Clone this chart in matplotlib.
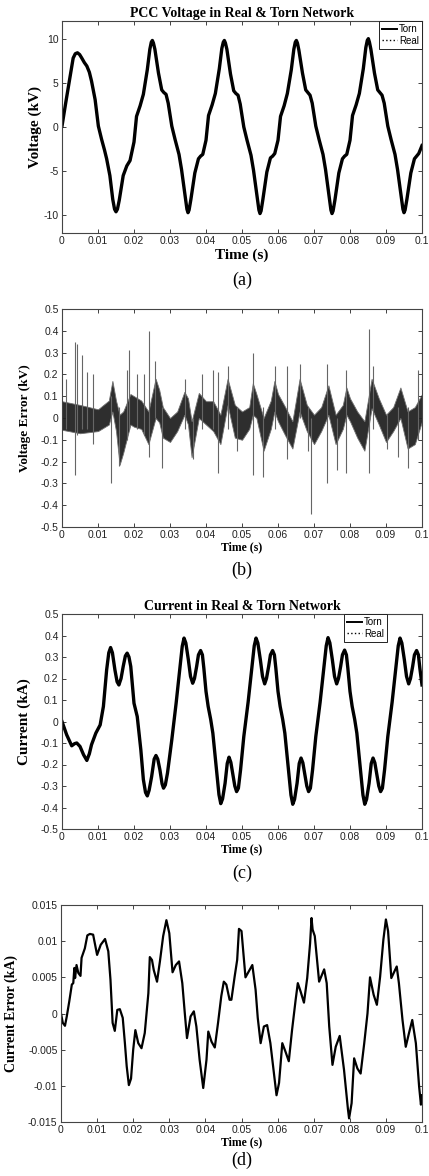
import matplotlib.pyplot as plt
from matplotlib.lines import Line2D

# ---- (a) PCC voltage, kV (torn and real overlap at this scale)
volt_t = [0.0000, 0.0011, 0.0022, 0.0031, 0.0037, 0.0043, 0.0049, 0.0055, 0.0062, 0.0069,
          0.0076, 0.0082, 0.0092, 0.0101, 0.0110, 0.0118, 0.0124, 0.0133, 0.0141, 0.0146,
          0.0150, 0.0154, 0.0159, 0.0165, 0.0170, 0.0180, 0.0189,
          0.0200, 0.0207, 0.0217, 0.0226, 0.0237, 0.0244, 0.0248, 0.0251, 0.0254, 0.0258,
          0.0268, 0.0277, 0.0283, 0.0289, 0.0295, 0.0305, 0.0314, 0.0325, 0.0332, 0.0342,
          0.0347, 0.0350, 0.0353, 0.0358, 0.0369, 0.0379, 0.0385, 0.0391,
          0.0400, 0.0407, 0.0417, 0.0426, 0.0437, 0.0444, 0.0448, 0.0451, 0.0454, 0.0458,
          0.0468, 0.0477, 0.0483, 0.0489, 0.0495, 0.0505, 0.0514, 0.0525, 0.0532, 0.0542,
          0.0547, 0.0550, 0.0553, 0.0558, 0.0569, 0.0579, 0.0585, 0.0591,
          0.0600, 0.0607, 0.0617, 0.0626, 0.0637, 0.0644, 0.0648, 0.0651, 0.0654, 0.0658,
          0.0668, 0.0677, 0.0683, 0.0689, 0.0695, 0.0705, 0.0714, 0.0725, 0.0732, 0.0742,
          0.0747, 0.0750, 0.0753, 0.0758, 0.0769, 0.0779, 0.0785, 0.0791,
          0.0800, 0.0807, 0.0817, 0.0826, 0.0837, 0.0844, 0.0848, 0.0851, 0.0854, 0.0858,
          0.0868, 0.0877, 0.0883, 0.0889, 0.0895, 0.0905, 0.0914, 0.0925, 0.0932, 0.0942,
          0.0947, 0.0950, 0.0953, 0.0958, 0.0969, 0.0979, 0.0985, 0.0991, 0.1000]
volt_kv = [0.1, 2.9, 5.6, 7.8, 8.3, 8.4, 8.2, 7.8, 7.3, 6.9,
           6.2, 5.2, 3.1, 0.1, -1.4, -2.6, -3.6, -5.5, -8.2, -9.3,
           -9.6, -9.3, -8.3, -6.8, -5.5, -4.4, -3.8,
           -1.7, 1.2, 2.4, 3.7, 6.5, 8.8, 9.6, 9.8, 9.5, 8.8,
           6.1, 4.2, 3.9, 3.7, 2.7, 0.1, -1.4, -3.1, -4.8, -7.8,
           -9.3, -9.7, -9.4, -8.2, -5.2, -3.6, -3.3, -3.1,
           -1.5, 1.3, 2.5, 3.8, 6.6, 8.9, 9.6, 9.8, 9.5, 8.8,
           6.0, 4.1, 3.8, 3.6, 2.6, 0.0, -1.5, -3.2, -4.9, -7.9,
           -9.4, -9.8, -9.5, -8.2, -5.1, -3.5, -3.3, -3.0,
           -1.5, 1.2, 2.4, 3.8, 6.5, 8.8, 9.6, 9.8, 9.5, 8.7,
           6.1, 4.2, 3.9, 3.6, 2.7, 0.1, -1.4, -3.1, -4.8, -7.9,
           -9.4, -9.8, -9.5, -8.3, -5.2, -3.6, -3.3, -3.1,
           -1.5, 1.3, 2.5, 3.8, 6.6, 9.0, 9.8, 10.0, 9.6, 8.8,
           6.1, 4.2, 3.9, 3.6, 2.7, 0.1, -1.4, -3.1, -4.8, -7.8,
           -9.3, -9.7, -9.4, -8.2, -5.2, -3.6, -3.3, -3.0, -2.1]

# ---- (b) voltage error, kV: noise band envelope + isolated spikes
verr_t = [0.000, 0.005, 0.010, 0.013, 0.014, 0.015, 0.016, 0.017, 0.019, 0.020,
          0.022, 0.024, 0.026, 0.027, 0.028, 0.030, 0.032, 0.034, 0.035, 0.036,
          0.038, 0.040, 0.042, 0.044, 0.046, 0.048, 0.050, 0.052, 0.053, 0.054,
          0.056, 0.058, 0.059, 0.060, 0.062, 0.064, 0.066, 0.068, 0.070, 0.072,
          0.074, 0.076, 0.078, 0.079, 0.080, 0.082, 0.084, 0.086, 0.088, 0.090,
          0.092, 0.094, 0.096, 0.098, 0.100]
verr_hi = [0.077, 0.060, 0.040, 0.080, 0.170, 0.080, 0.015, 0.030, 0.110, 0.100,
           0.080, 0.030, 0.180, 0.130, 0.050, 0.000, 0.030, 0.120, 0.090, -0.015,
           0.115, 0.077, 0.077, 0.015, 0.180, 0.060, 0.030, 0.050, 0.160, 0.110,
           0.000, 0.080, 0.170, 0.110, 0.050, -0.015, 0.180, 0.060, 0.015, 0.050,
           0.150, 0.015, 0.060, 0.140, 0.090, 0.030, -0.015, 0.180, 0.090, 0.015,
           0.050, 0.140, 0.030, 0.050, 0.110]
verr_lo = [-0.054, -0.070, -0.060, -0.030, 0.030, -0.060, -0.215, -0.160, -0.030, -0.040,
           -0.050, -0.120, 0.000, -0.020, -0.090, -0.110, -0.060, 0.015, -0.030, -0.180,
           0.000, -0.030, -0.060, -0.120, 0.060, -0.090, -0.100, -0.050, 0.015, 0.000,
           -0.150, -0.050, 0.030, -0.015, -0.080, -0.140, 0.030, -0.060, -0.120, -0.060,
           0.015, -0.120, -0.050, 0.015, -0.015, -0.090, -0.150, 0.045, -0.030, -0.110,
           -0.060, 0.000, -0.140, -0.120, -0.015]
spike_t = [0.0011, 0.0036, 0.0043, 0.0056, 0.0069, 0.0085, 0.0136, 0.0159, 0.0180, 0.0187,
           0.0207, 0.0228, 0.0243, 0.0258, 0.0277, 0.0342, 0.0365, 0.0388, 0.0420, 0.0434,
           0.0462, 0.0485, 0.0530, 0.0559, 0.0592, 0.0626, 0.0660, 0.0684, 0.0693, 0.0737,
           0.0763, 0.0790, 0.0854, 0.0863, 0.0902, 0.0934, 0.0962, 0.0989]
spike_lo = [-0.05, -0.26, -0.08, -0.05, -0.05, -0.12, -0.30, -0.22, -0.10, -0.05,
            -0.05, -0.08, -0.18, 0.00, -0.23, -0.05, -0.19, -0.05, -0.05, -0.25,
            -0.05, -0.15, -0.26, -0.27, -0.05, -0.19, 0.00, -0.15, -0.44, -0.30,
            -0.24, -0.25, -0.25, -0.05, -0.14, -0.18, -0.23, -0.10]
spike_hi = [0.18, 0.35, 0.34, 0.29, 0.21, 0.20, 0.10, 0.05, 0.22, 0.31,
            0.20, 0.20, 0.40, 0.26, 0.05, 0.18, 0.00, 0.20, 0.22, 0.21,
            0.24, 0.05, 0.30, 0.05, 0.24, 0.24, 0.25, 0.05, 0.00, 0.25,
            0.00, 0.22, 0.41, 0.24, 0.02, 0.05, 0.05, 0.22]

# ---- (c) current, kA
curr_t = [0.0000, 0.0013, 0.0027, 0.0035, 0.0041, 0.0050, 0.0060, 0.0069, 0.0076, 0.0082,
          0.0094, 0.0106, 0.0115, 0.0124, 0.0130, 0.0135, 0.0140, 0.0147, 0.0153, 0.0158,
          0.0164, 0.0170, 0.0176, 0.0181, 0.0186, 0.0191, 0.0200, 0.0209, 0.0219, 0.0226,
          0.0232, 0.0237, 0.0242, 0.0249, 0.0256, 0.0261, 0.0266, 0.0272, 0.0278, 0.0282,
          0.0287, 0.0293,
          0.0305, 0.0317, 0.0328, 0.0334, 0.0339, 0.0344, 0.0351, 0.0357, 0.0363, 0.0368,
          0.0374, 0.0379, 0.0385, 0.0390, 0.0394, 0.0400, 0.0406, 0.0413, 0.0419, 0.0430,
          0.0436, 0.0441, 0.0446, 0.0453, 0.0459, 0.0464, 0.0469, 0.0474, 0.0480, 0.0485,
          0.0490, 0.0496,
          0.0505, 0.0517, 0.0528, 0.0534, 0.0539, 0.0544, 0.0551, 0.0557, 0.0563, 0.0568,
          0.0574, 0.0579, 0.0585, 0.0590, 0.0594, 0.0600, 0.0606, 0.0613, 0.0619, 0.0630,
          0.0636, 0.0641, 0.0646, 0.0653, 0.0659, 0.0664, 0.0669, 0.0674, 0.0680, 0.0685,
          0.0690, 0.0696,
          0.0705, 0.0717, 0.0728, 0.0734, 0.0739, 0.0744, 0.0751, 0.0757, 0.0763, 0.0768,
          0.0774, 0.0779, 0.0785, 0.0790, 0.0794, 0.0800, 0.0806, 0.0813, 0.0819, 0.0830,
          0.0836, 0.0841, 0.0846, 0.0853, 0.0859, 0.0864, 0.0869, 0.0874, 0.0880, 0.0885,
          0.0890, 0.0896,
          0.0905, 0.0917, 0.0928, 0.0934, 0.0939, 0.0944, 0.0951, 0.0957, 0.0963, 0.0968,
          0.0974, 0.0979, 0.0985, 0.0990, 0.0994, 0.1000]
curr_ka = [0.000, -0.062, -0.113, -0.103, -0.100, -0.116, -0.155, -0.181, -0.150, -0.108,
           -0.054, -0.016, 0.070, 0.240, 0.320, 0.344, 0.320, 0.240, 0.185, 0.170,
           0.200, 0.256, 0.305, 0.318, 0.300, 0.256, 0.085, 0.023, -0.132, -0.270,
           -0.330, -0.346, -0.320, -0.256, -0.175, -0.158, -0.175, -0.225, -0.290, -0.310,
           -0.295, -0.240,
           -0.085, 0.085, 0.256, 0.350, 0.388, 0.365, 0.287, 0.210, 0.178, 0.200,
           0.256, 0.310, 0.330, 0.310, 0.248, 0.140, 0.070, 0.010, -0.054, -0.240,
           -0.340, -0.382, -0.360, -0.287, -0.195, -0.166, -0.190, -0.240, -0.300, -0.326,
           -0.310, -0.225,
           -0.070, 0.090, 0.258, 0.352, 0.388, 0.365, 0.287, 0.210, 0.175, 0.200,
           0.256, 0.310, 0.330, 0.310, 0.248, 0.140, 0.070, 0.010, -0.054, -0.240,
           -0.342, -0.385, -0.362, -0.287, -0.195, -0.170, -0.192, -0.240, -0.300, -0.326,
           -0.310, -0.225,
           -0.070, 0.090, 0.258, 0.352, 0.390, 0.366, 0.287, 0.210, 0.175, 0.200,
           0.256, 0.310, 0.332, 0.310, 0.248, 0.140, 0.070, 0.010, -0.054, -0.240,
           -0.342, -0.385, -0.362, -0.287, -0.195, -0.170, -0.192, -0.240, -0.300, -0.326,
           -0.310, -0.225,
           -0.070, 0.090, 0.258, 0.352, 0.388, 0.365, 0.287, 0.210, 0.175, 0.200,
           0.256, 0.310, 0.330, 0.310, 0.248, 0.170]

# ---- (d) current error, kA
cerr_t = [0.0000, 0.0005, 0.0011, 0.0016, 0.0023, 0.0030, 0.0034, 0.0037, 0.0039, 0.0043,
          0.0048, 0.0054, 0.0057, 0.0066, 0.0073, 0.0080, 0.0089, 0.0100, 0.0110, 0.0122,
          0.0131, 0.0137, 0.0143, 0.0149, 0.0156, 0.0163, 0.0171, 0.0177, 0.0182, 0.0188,
          0.0194, 0.0200, 0.0206, 0.0214, 0.0223, 0.0232, 0.0242, 0.0246, 0.0252, 0.0257,
          0.0266, 0.0274, 0.0283, 0.0292, 0.0300, 0.0309, 0.0318, 0.0327, 0.0336, 0.0343,
          0.0349, 0.0359, 0.0368, 0.0375, 0.0384, 0.0394, 0.0403, 0.0408, 0.0417, 0.0426,
          0.0435, 0.0444, 0.0451, 0.0458, 0.0467, 0.0472, 0.0481, 0.0488, 0.0493, 0.0500,
          0.0511, 0.0530, 0.0539, 0.0545, 0.0553, 0.0562, 0.0571, 0.0580, 0.0590, 0.0597,
          0.0604, 0.0613, 0.0622, 0.0631, 0.0640, 0.0650, 0.0656, 0.0664, 0.0673, 0.0682,
          0.0690, 0.0694, 0.0697, 0.0703, 0.0715, 0.0729, 0.0736, 0.0743, 0.0752, 0.0761,
          0.0772, 0.0784, 0.0795, 0.0798, 0.0805, 0.0812, 0.0821, 0.0830, 0.0840, 0.0849,
          0.0856, 0.0866, 0.0875, 0.0884, 0.0893, 0.0900, 0.0906, 0.0915, 0.0930, 0.0936,
          0.0946, 0.0955, 0.0964, 0.0973, 0.0983, 0.0992, 0.0997, 0.1000]
cerr_ma = [0.0, -1.3, -1.7, -0.4, 1.7, 4.0, 4.2, 6.3, 4.9, 6.7,
           5.6, 5.2, 7.7, 9.0, 10.8, 11.0, 10.9, 8.1, 9.5, 10.3,
           8.6, 4.7, -1.3, -2.4, 0.5, 0.6, -0.6, -4.1, -7.3, -9.9,
           -9.0, -5.0, -2.3, -4.1, -4.8, -2.7, 2.8, 7.8, 7.4, 6.0,
           4.4, 7.2, 10.7, 12.9, 11.1, 5.7, 6.7, 7.2, 4.2, 0.0,
           -3.4, -0.4, 0.3, -1.8, -6.4, -10.3, -6.4, -2.5, -3.9, -4.7,
           -1.3, 2.4, 4.4, 4.0, 1.9, 1.9, 5.1, 7.4, 11.7, 11.4,
           5.0, 6.7, 3.3, -0.6, -4.1, -1.8, -1.6, -4.1, -8.3, -11.3,
           -9.6, -4.1, -5.3, -6.6, -2.3, 1.9, 4.2, 3.0, 1.5, 4.9,
           9.7, 13.2, 11.6, 10.7, 4.4, 6.1, 4.2, -1.8, -7.1, -4.6,
           -3.1, -7.8, -13.3, -14.5, -12.4, -6.2, -7.6, -8.3, -4.1, 0.0,
           5.0, 2.6, 1.2, 5.1, 10.2, 13.0, 11.4, 4.9, 6.5, 4.2,
           -0.9, -4.6, -2.7, -0.9, -4.1, -10.1, -12.6, -11.3]
cerr_ka = [v / 1000.0 for v in cerr_ma]

time_ticks = [0, 0.01, 0.02, 0.03, 0.04, 0.05, 0.06, 0.07, 0.08, 0.09, 0.1]
time_labels = ['0', '0.01', '0.02', '0.03', '0.04', '0.05', '0.06', '0.07', '0.08', '0.09', '0.1']

SERIF = 'Liberation Serif'
SANS = 'Liberation Sans'
W, H = 429, 1176


def make_axes(fig, top, bottom, left=62, right=422):
    ax = fig.add_axes([left / W, 1 - bottom / H, (right - left) / W, (bottom - top) / H])
    ax.set_xlim(0, 0.1)
    ax.set_xticks(time_ticks)
    ax.set_xticklabels(time_labels)
    ax.tick_params(direction='in', top=True, right=True, length=3, width=0.6,
                   labelsize=7.5, pad=2.5, colors='#222222')
    for lab in ax.get_xticklabels() + ax.get_yticklabels():
        lab.set_family(SANS)
    for sp in ax.spines.values():
        sp.set_linewidth(0.8)
        sp.set_color('#444444')
    return ax


def add_legend(ax, anchor_x):
    handles = [Line2D([], [], color='black', lw=1.4, ls='-'),
               Line2D([], [], color='black', lw=1.0, ls=':')]
    leg = ax.legend(handles, ['Torn', 'Real'], loc='upper right',
                    bbox_to_anchor=(anchor_x, 1.0), borderaxespad=0.0,
                    fancybox=False, framealpha=1, edgecolor='#222222',
                    handlelength=1.6, handletextpad=0.2, labelspacing=0.2,
                    borderpad=0.3, prop={'family': SANS, 'size': 7})
    leg.get_frame().set_linewidth(0.7)


fig = plt.figure(figsize=(W / 100, H / 100), dpi=100)

# (a)
ax = make_axes(fig, 21, 233)
ax.plot(volt_t, volt_kv, color='black', lw=2.4, label='Torn')
ax.plot(volt_t, volt_kv, color='black', lw=1.0, ls=':', label='Real')
ax.set_ylim(-12, 12)
ax.set_yticks([-10, -5, 0, 5, 10])
ax.set_yticklabels(['-10', '-5', '0', '5', '10'], family=SANS)
ax.set_title('PCC Voltage in Real & Torn Network', family=SERIF, weight='bold',
             fontsize=10, pad=3)
ax.set_xlabel('Time (s)', family=SERIF, weight='bold', fontsize=11)
ax.set_ylabel('Voltage (kV)', family=SERIF, weight='bold', fontsize=11)
ax.xaxis.set_label_coords(0.5, -0.075)
ax.yaxis.set_label_coords(-0.055, 0.5)
add_legend(ax, 1.0)
fig.text(0.564, 1 - 280 / H, '(a)', family=SERIF, fontsize=13, ha='center', va='center')

# (b)
ax = make_axes(fig, 309, 527)
ax.fill_between(verr_t, verr_lo, verr_hi, color='#2e2e2e', lw=0.6, edgecolor='#707070')
ax.vlines(spike_t, spike_lo, spike_hi, color='#666666', lw=0.8)
ax.set_ylim(-0.5, 0.5)
ax.set_yticks([-0.5, -0.4, -0.3, -0.2, -0.1, 0, 0.1, 0.2, 0.3, 0.4, 0.5])
ax.set_yticklabels(['-0.5', '-0.4', '-0.3', '-0.2', '-0.1', '0', '0.1', '0.2', '0.3', '0.4', '0.5'],
                   family=SANS)
ax.set_xlabel('Time (s)', family=SERIF, weight='bold', fontsize=8.5)
ax.set_ylabel('Voltage Error (kV)', family=SERIF, weight='bold', fontsize=9.5)
ax.xaxis.set_label_coords(0.5, -0.065)
ax.yaxis.set_label_coords(-0.085, 0.5)
fig.text(0.564, 1 - 570 / H, '(b)', family=SERIF, fontsize=13, ha='center', va='center')

# (c)
ax = make_axes(fig, 614, 829)
ax.plot(curr_t, curr_ka, color='black', lw=2.4)
ax.plot(curr_t, curr_ka, color='black', lw=1.0, ls=':')
ax.set_ylim(-0.5, 0.5)
ax.set_yticks([-0.5, -0.4, -0.3, -0.2, -0.1, 0, 0.1, 0.2, 0.3, 0.4, 0.5])
ax.set_yticklabels(['-0.5', '-0.4', '-0.3', '-0.2', '-0.1', '0', '0.1', '0.2', '0.3', '0.4', '0.5'],
                   family=SANS)
ax.set_title('Current in Real & Torn Network', family=SERIF, weight='bold',
             fontsize=10, pad=3)
ax.set_xlabel('Time (s)', family=SERIF, weight='bold', fontsize=8.5)
ax.set_ylabel('Current (kA)', family=SERIF, weight='bold', fontsize=11)
ax.xaxis.set_label_coords(0.5, -0.065)
ax.yaxis.set_label_coords(-0.085, 0.5)
add_legend(ax, (387 - 62) / 360)
fig.text(0.564, 1 - 873 / H, '(c)', family=SERIF, fontsize=13, ha='center', va='center')

# (d)
ax = make_axes(fig, 905, 1122, left=61)
ax.plot(cerr_t, cerr_ka, color='black', lw=1.6)
ax.set_ylim(-0.015, 0.015)
ax.set_yticks([-0.015, -0.01, -0.005, 0, 0.005, 0.01, 0.015])
ax.set_yticklabels(['-0.015', '-0.01', '-0.005', '0', '0.005', '0.01', '0.015'], family=SANS)
ax.set_xlabel('Time (s)', family=SERIF, weight='bold', fontsize=8.5)
ax.set_ylabel('Current Error (kA)', family=SERIF, weight='bold', fontsize=10)
ax.xaxis.set_label_coords(0.5, -0.065)
ax.yaxis.set_label_coords(-0.12, 0.5)
fig.text(0.564, 1 - 1160 / H, '(d)', family=SERIF, fontsize=13, ha='center', va='center')

fig.savefig('out.png', dpi=100)
